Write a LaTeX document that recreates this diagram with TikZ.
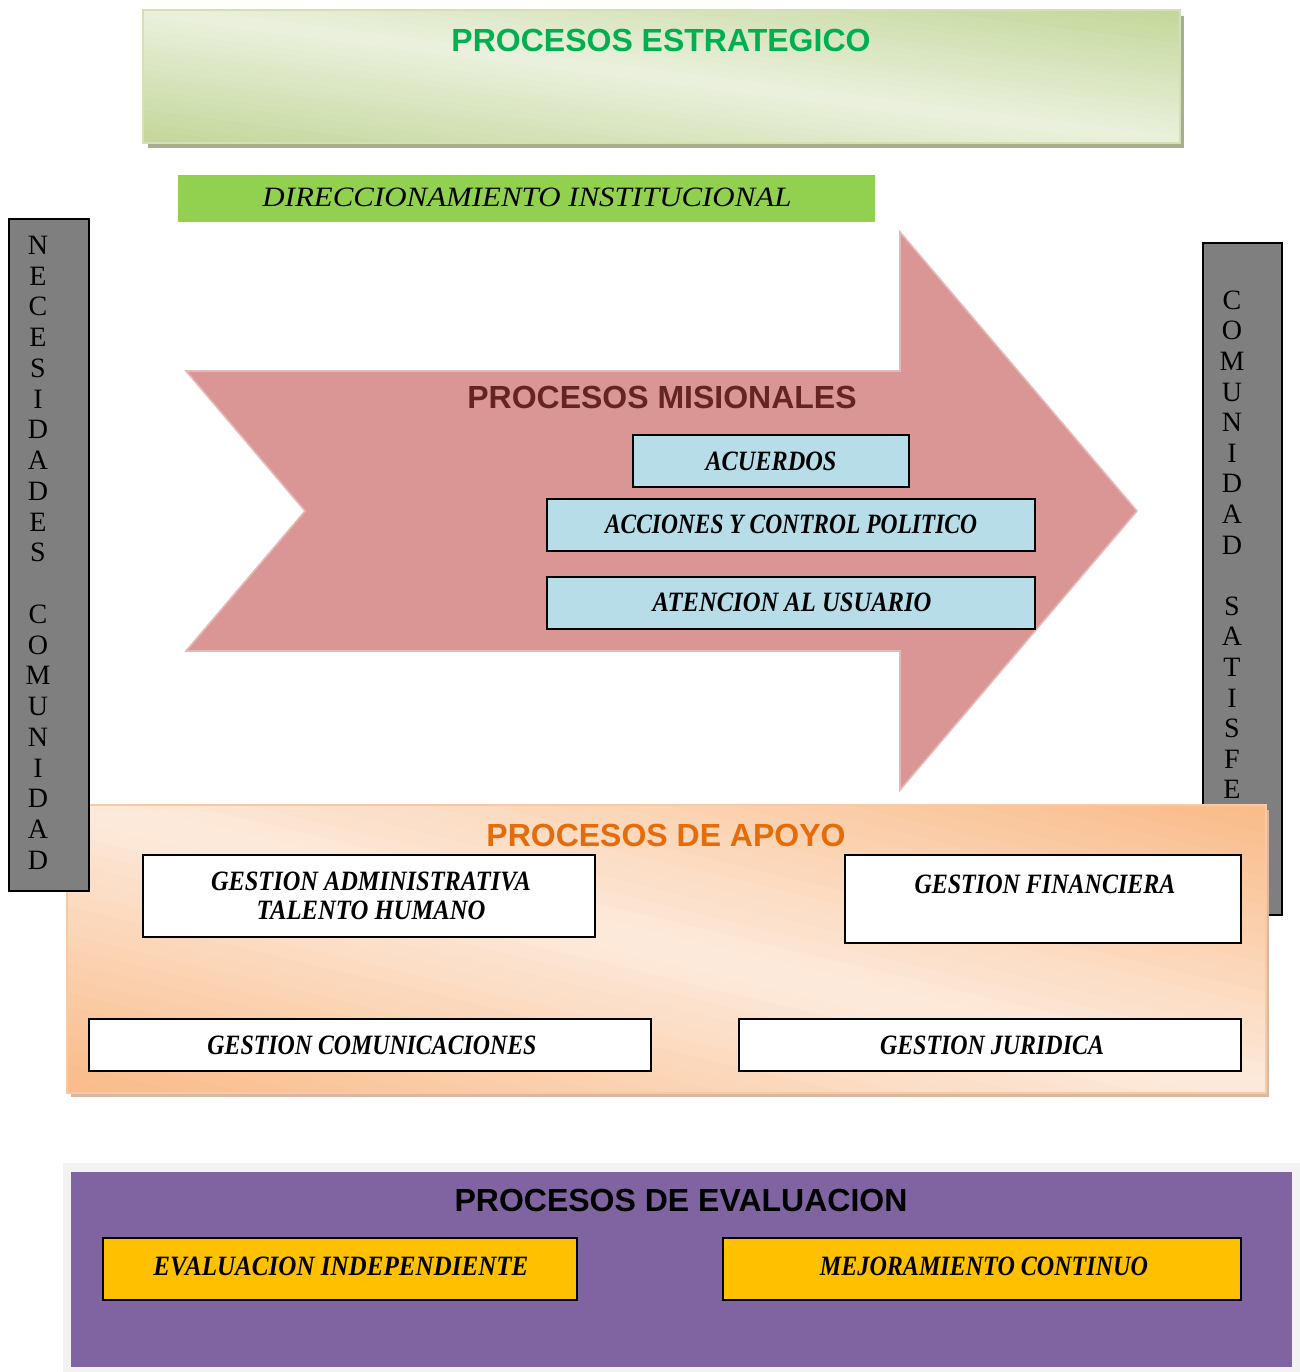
\documentclass[tikz,border=0pt]{standalone}
\usepackage{fontspec}
\usepackage{graphicx}
\setmainfont{Liberation Serif}
\setsansfont{Liberation Sans}
\usetikzlibrary{fit}
\definecolor{gdark}{HTML}{C4D79B}
\definecolor{glight}{HTML}{EBF1DE}
\definecolor{gshadow}{HTML}{A6AE8E}
\definecolor{gborder}{HTML}{D2E0B4}
\definecolor{gtitle}{HTML}{00B050}
\definecolor{dirgreen}{HTML}{92D050}
\definecolor{arrowfill}{HTML}{D99694}
\definecolor{arrowedge}{HTML}{E6B9B8}
\definecolor{misred}{HTML}{632523}
\definecolor{lblue}{HTML}{B7DDE8}
\definecolor{odark}{HTML}{F9BC8A}
\definecolor{olight}{HTML}{FDEADC}
\definecolor{oshadow}{HTML}{D9B7A0}
\definecolor{oborder}{HTML}{F8C9A3}
\definecolor{otitle}{HTML}{E46C0A}
\definecolor{barg}{HTML}{7F7F7F}
\definecolor{evframe}{HTML}{F2F2F2}
\definecolor{purp}{HTML}{8064A2}
\definecolor{yell}{HTML}{FFC000}
\newcommand{\fitw}[2]{\resizebox{#1}{\height}{\fontsize{14}{16}\selectfont\itshape #2}}
\newcommand{\fitb}[2]{\resizebox{#1}{\height}{\fontsize{14}{16}\selectfont\bfseries\itshape #2}}
\begin{document}
\begin{tikzpicture}[x=0.5pt,y=-0.5pt,
  title/.style={font=\fontsize{16}{18}\selectfont\sffamily\bfseries, inner sep=0pt, outer sep=0pt},
  area/.style={inner sep=0pt, outer sep=0pt},
  box/.style={draw=black, line width=1pt, inner sep=0pt, outer sep=0pt},
  lbl/.style={inner sep=0pt, outer sep=0pt},
  gbar/.style={draw=black, line width=1pt, fill=barg, inner sep=0pt, outer sep=0pt},
  vl/.style={font=\fontsize{14}{14}\selectfont, inner sep=0pt, anchor=base}]
\useasboundingbox (0,0) rectangle (1300,1372);

% ---------- estrategico ----------
\fill[gshadow] (148,16) rectangle (1184,148);
\begin{scope}
  \clip (143,10) rectangle (1180,143);
  \fill[gdark] (143,10) rectangle (1180,143);
  \foreach \i in {0,...,39}{
    \pgfmathsetmacro{\p}{abs(\i-19.5)/19.5*100}
    \pgfmathsetmacro{\ya}{-55.5+\i*6.6}
    \pgfmathsetmacro{\yb}{\ya+7.4}
    \fill[gdark!\p!glight, rotate around={-7.3:(661.5,76.5)}]
      (61.5,\ya) rectangle (1261.5,\yb);
  }
\end{scope}
\node[area, fit={(143,10)(1180,143)}, draw=gborder, line width=1pt] (estr) {};
\node[title, text=gtitle] (estrT) at (661,40) {PROCESOS ESTRATEGICO};

% ---------- direccionamiento ----------
\node[area, fit={(178,175)(875,222)}, fill=dirgreen] (dir) {};
\node[lbl] (dirT) at (527,197) {\fitw{264.5pt}{DIRECCIONAMIENTO INSTITUCIONAL}};

% ---------- misionales arrow ----------
\filldraw[fill=arrowfill, draw=arrowedge, line width=0.8pt]
  (186,371) -- (900,371) -- (900,232) -- (1137,511) -- (900,790) -- (900,651)
  -- (186,651) -- (305,511) -- cycle;
\node[title, text=misred] (misT) at (662,397) {PROCESOS MISIONALES};
\node[box, fill=lblue, fit={(633,435)(909,487)}] (acu) {};
\node[lbl] (acuT) at (acu.center) {\fitb{65.5pt}{ACUERDOS}};
\node[box, fill=lblue, fit={(547,499)(1035,551)}] (acc) {};
\node[lbl] (accT) at (791,524) {\fitb{186pt}{ACCIONES Y CONTROL POLITICO}};
\node[box, fill=lblue, fit={(547,577)(1035,629)}] (ate) {};
\node[lbl] (ateT) at (792,602) {\fitb{139.5pt}{ATENCION AL USUARIO}};

% ---------- right bar ----------
\node[gbar, fit={(1203,243)(1282,915)}] (rbar) {};
\foreach \l [count=\i from 0] in {C,O,M,U,N,I,D,A,D}
  \node[vl] (rl\i) at (1232,309.3+30.6*\i) {\l};
\foreach \l [count=\i from 10] in {S,A,T,I,S,F,E}
  \node[vl] (rm\i) at (1232,309.3+30.6*\i) {\l};

% ---------- apoyo ----------
\fill[oshadow] (71,810) rectangle (1269,1097);
\begin{scope}
  \clip (67,805) rectangle (1266,1093);
  \fill[odark] (67,805) rectangle (1266,1093);
  \foreach \i in {0,...,39}{
    \pgfmathsetmacro{\p}{abs(\i-19.5)/19.5*100}
    \pgfmathsetmacro{\ya}{669+\i*14}
    \pgfmathsetmacro{\yb}{\ya+15}
    \fill[odark!\p!olight, rotate around={-13.5:(666.5,949)}]
      (-53.5,\ya) rectangle (1386.5,\yb);
  }
\end{scope}
\node[area, fit={(67,805)(1266,1093)}, draw=oborder, line width=1pt] (apoyo) {};
\node[title, text=otitle] (apoyoT) at (666,835) {PROCESOS DE APOYO};
\node[box, fill=white, fit={(143,855)(595,937)}] (adm) {};
\node[lbl] (admT1) at (371,881) {\fitb{160pt}{GESTION ADMINISTRATIVA}};
\node[lbl] (admT2) at (371,910) {\fitb{114.5pt}{TALENTO HUMANO}};
\node[box, fill=white, fit={(845,855)(1241,943)}] (fin) {};
\node[lbl] (finT) at (1045,884) {\fitb{130.5pt}{GESTION FINANCIERA}};
\node[box, fill=white, fit={(89,1019)(651,1071)}] (com) {};
\node[lbl] (comT) at (372,1045) {\fitb{164.5pt}{GESTION COMUNICACIONES}};
\node[box, fill=white, fit={(739,1019)(1241,1071)}] (jur) {};
\node[lbl] (jurT) at (992,1045) {\fitb{112pt}{GESTION JURIDICA}};

% ---------- left bar ----------
\node[gbar, fit={(9,219)(89,891)}] (lbar) {};
\foreach \l [count=\i from 0] in {N,E,C,E,S,I,D,A,D,E,S}
  \node[vl] (ll\i) at (38,254.3+30.75*\i) {\l};
\foreach \l [count=\i from 12] in {C,O,M,U,N,I,D,A,D}
  \node[vl] (lm\i) at (38,254.3+30.75*\i) {\l};

% ---------- evaluacion ----------
\node[area, fill=evframe, fit={(63,1163)(1300,1372)}] (evf) {};
\node[area, fill=purp, fit={(71,1172)(1292,1367)}] (ev) {};
\node[title, text=black] (evT) at (681,1200) {PROCESOS DE EVALUACION};
\node[box, fill=yell, fit={(103,1238)(577,1300)}] (ind) {};
\node[lbl] (indT) at (341,1266) {\fitb{187.5pt}{EVALUACION INDEPENDIENTE}};
\node[box, fill=yell, fit={(723,1238)(1241,1300)}] (mej) {};
\node[lbl] (mejT) at (984,1266) {\fitb{164pt}{MEJORAMIENTO CONTINUO}};
\end{tikzpicture}
\end{document}
